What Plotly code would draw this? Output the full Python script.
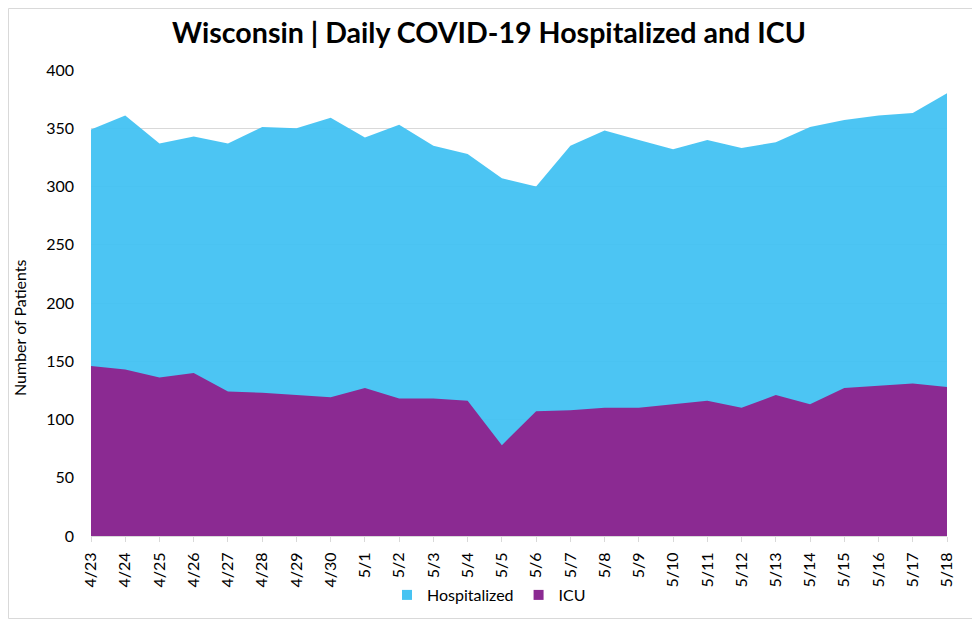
import plotly.graph_objects as go

dates = ["4/23","4/24","4/25","4/26","4/27","4/28","4/29","4/30","5/1","5/2","5/3","5/4","5/5",
         "5/6","5/7","5/8","5/9","5/10","5/11","5/12","5/13","5/14","5/15","5/16","5/17","5/18"]
hospitalized = [349,361,337,343,337,351,350,359,342,353,335,328,307,
                300,335,348,340,332,340,333,338,351,357,361,363,380]
icu = [146,143,136,140,124,123,121,119,127,118,118,116,78,
       107,108,110,110,113,116,110,121,113,127,129,131,128]

HOSP_COLOR = "#47C3F2"
ICU_COLOR = "#8B2A92"

# page is rendered with the default 8px body margin, so lay out in page
# coordinates and convert to figure coordinates
OFF = 8
PAGE_W, PAGE_H = 980, 619
W, H = PAGE_W - OFF, PAGE_H - OFF
# plot area in page coords: left 91, right 947, top 70, bottom 536
ML = 91 - OFF
MT = 70 - OFF
MR = PAGE_W - 947
MB = PAGE_H - 536
PW, PH = W - ML - MR, H - MT - MB

FONT = "Lato"
x = list(range(len(dates)))

fig = go.Figure()
fig.add_trace(go.Scatter(x=x, y=hospitalized, name="Hospitalized", mode="lines",
                         line=dict(width=0, color=HOSP_COLOR), fill="tozeroy",
                         fillcolor="rgba(62,193,242,0.93)", showlegend=False))
fig.add_trace(go.Scatter(x=x, y=icu, name="ICU", mode="lines",
                         line=dict(width=0, color=ICU_COLOR), fill="tozeroy",
                         fillcolor=ICU_COLOR, showlegend=False))
# legend entries with square swatches
fig.add_trace(go.Scatter(x=[None], y=[None], name="Hospitalized", mode="markers",
                         marker=dict(symbol="square", size=10, color=HOSP_COLOR)))
fig.add_trace(go.Scatter(x=[None], y=[None], name="ICU", mode="markers",
                         marker=dict(symbol="square", size=10, color=ICU_COLOR)))

def px_x(p):  # page x -> paper
    return (p - OFF - ML) / PW

def px_y(p):  # page y -> paper
    return (H - MB - (p - OFF)) / PH

fig.add_shape(type="rect", xref="paper", yref="paper",
              x0=px_x(OFF + 0.5), x1=px_x(PAGE_W - 0.5),
              y0=px_y(PAGE_H - 0.5), y1=px_y(OFF + 0.5),
              line=dict(color="#D9D9D9", width=1), layer="below")

fig.add_annotation(text="Number of Patients", xref="paper", yref="paper",
                   x=px_x(19), y=px_y(328), xanchor="center", yanchor="middle",
                   textangle=-90, showarrow=False,
                   font=dict(size=16, family=FONT, color="#000000"))

fig.update_layout(
    width=W, height=H,
    margin=dict(l=ML, r=MR, t=MT, b=MB, autoexpand=False),
    paper_bgcolor="white", plot_bgcolor="white",
    font=dict(family=FONT, color="#000000"),
    title=dict(text="<b>Wisconsin | Daily COVID-19 Hospitalized and ICU</b>",
               x=(489 - OFF) / W, xref="container", xanchor="center",
               y=1 - (33 - OFF) / H, yanchor="middle",
               font=dict(size=28.6, family=FONT, color="#000000")),
    showlegend=True,
    legend=dict(orientation="h", x=(489 - OFF) / W, xref="container", xanchor="center",
                y=px_y(595), yanchor="middle",
                font=dict(size=16, family=FONT, color="#000000"), traceorder="normal",
                itemwidth=30),
    xaxis=dict(range=[0, len(dates) - 1], tickmode="array", tickvals=x, ticktext=dates,
               tickangle=-90, tickfont=dict(size=16, color="#000000"), automargin=False,
               showgrid=False, zeroline=False, showline=True, linecolor="#D9D9D9",
               ticks="outside", ticklen=5, tickcolor="#D9D9D9", ticklabelstandoff=4),
    yaxis=dict(range=[0, 400], dtick=50, tickfont=dict(size=16, color="#000000"),
               showgrid=True, gridcolor="#D9D9D9", zeroline=False, showline=False,
               ticks="", ticklabelstandoff=16, automargin=False),
)
fig.update_layout(yaxis_layer="above traces")

fig.write_html("out.html")
